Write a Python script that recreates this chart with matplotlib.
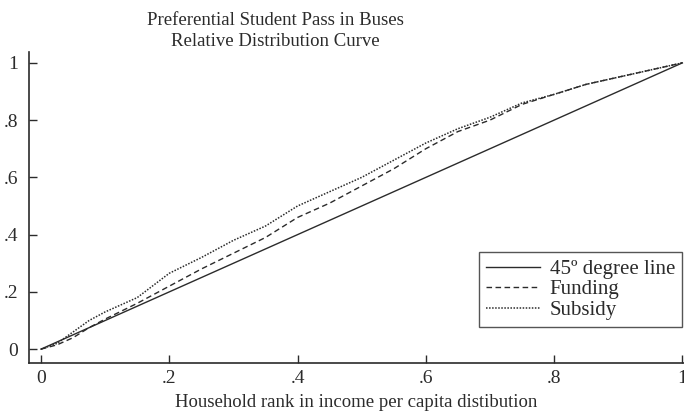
import matplotlib.pyplot as plt
import numpy as np

plt.rcParams['font.family'] = ['Liberation Serif', 'DejaVu Serif']

# household rank (x) and cumulative share of benefits (y)
rank = [0.0, 0.025, 0.05, 0.075, 0.1, 0.15, 0.2, 0.25, 0.3, 0.35, 0.4, 0.45,
        0.5, 0.55, 0.6, 0.65, 0.7, 0.75, 0.8, 0.85, 0.9, 0.95, 1.0]
funding = [0.0, 0.015, 0.04, 0.075, 0.105, 0.16, 0.22, 0.28, 0.335, 0.39, 0.46, 0.51,
           0.57, 0.63, 0.70, 0.76, 0.80, 0.855, 0.89, 0.925, 0.95, 0.975, 1.0]
subsidy = [0.0, 0.02, 0.06, 0.10, 0.13, 0.18, 0.265, 0.32, 0.38, 0.43, 0.50, 0.55,
           0.60, 0.66, 0.72, 0.77, 0.81, 0.86, 0.89, 0.925, 0.95, 0.975, 1.0]
diag = [0.0, 1.0]

ticks = [0, 0.2, 0.4, 0.6, 0.8, 1]
tick_labels = ['0', '.2', '.4', '.6', '.8', '1']

fig = plt.figure(figsize=(6.84, 4.16), dpi=100)
ax = fig.add_axes([0.0424, 0.127, 0.958, 0.748])

col = '#2b2b2b'
ax.plot(diag, diag, color=col, lw=1.0, ls='-', label='45º degree line')
ax.plot(rank, funding, color=col, lw=1.0, ls=(0, (4, 2.5)), label='Funding')
ax.plot(rank, subsidy, color=col, lw=1.1, ls=(0, (1, 1)), label='Subsidy')

ax.set_xlim(-0.0187, 1.003)
ax.set_ylim(-0.049, 1.038)
ax.set_xticks(ticks)
ax.set_xticklabels(tick_labels)
ax.set_yticks(ticks)
ax.set_yticklabels(tick_labels)
ax.tick_params(direction='in', length=5.5, width=1, labelsize=14, colors=col, pad=5)
ax.tick_params(axis='y', pad=8)

for s in ['top', 'right']:
    ax.spines[s].set_visible(False)
for s in ['left', 'bottom']:
    ax.spines[s].set_color(col)
    ax.spines[s].set_linewidth(1.2)

ax.set_xlabel('Household rank in income per capita distibution', fontsize=13.5, color=col, labelpad=5)
fig.text(0.403, 0.97, 'Preferential Student Pass in Buses\nRelative Distribution Curve',
         ha='center', va='top', fontsize=13.5, color=col, linespacing=1.3)

leg = ax.legend(loc='lower right', bbox_to_anchor=(0.997, 0.115), fontsize=15, frameon=True,
                fancybox=False, edgecolor=col, handlelength=2.6, handletextpad=0.45,
                labelspacing=0.05, borderpad=0.35, borderaxespad=0)
leg.get_frame().set_linewidth(1.0)
for t in leg.get_texts():
    t.set_color(col)

fig.savefig('out.png', dpi=100)
